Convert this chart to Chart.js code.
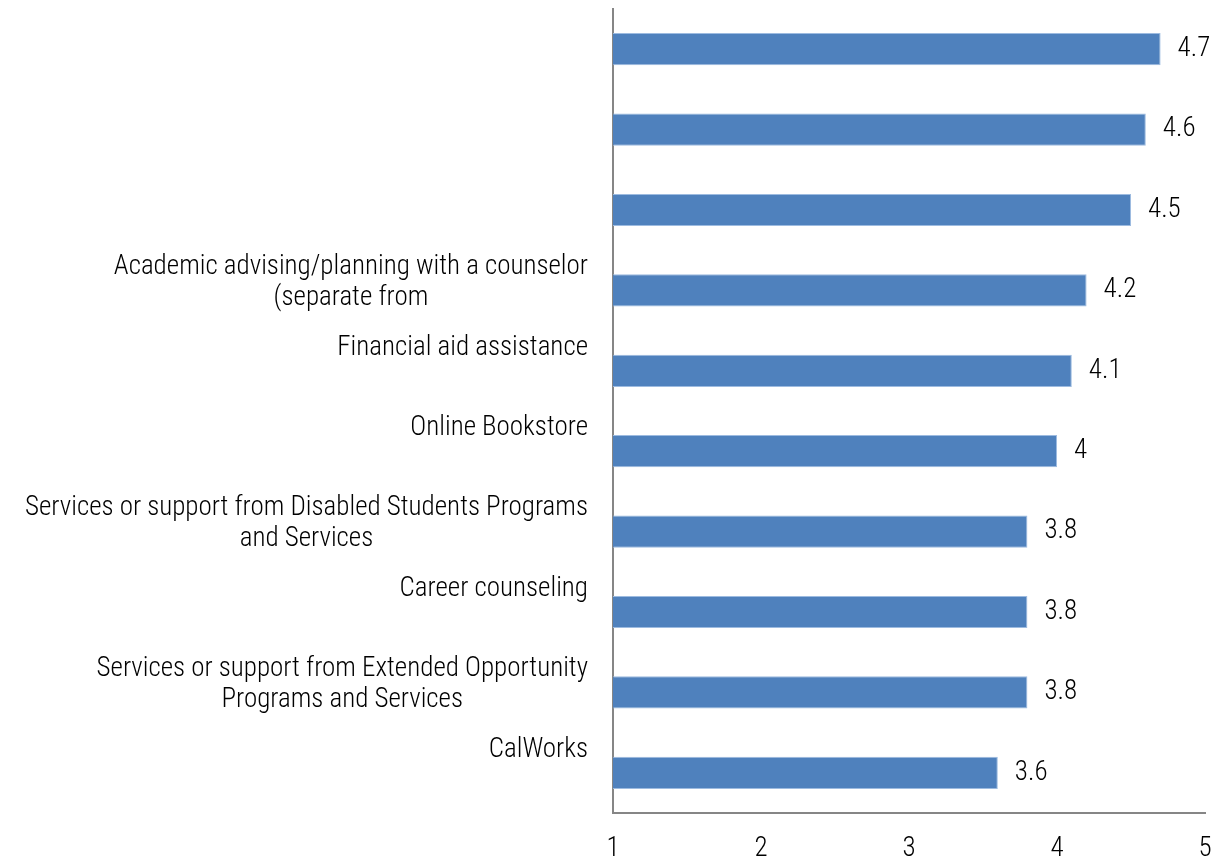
<!DOCTYPE html>
<html>
<head>
<meta charset="utf-8">
<script src="https://cdn.jsdelivr.net/npm/chart.js@4/dist/chart.umd.min.js"></script>
<style>
  html, body { margin: 0; padding: 0; background: #fff; }
  #wrap { width: 1223px; height: 861px; }
</style>
</head>
<body>
<div id="wrap"><canvas id="chart"></canvas></div>
<script>
/* ===============================
   DATA
================================ */
const categories = [
  [""],
  [""],
  [""],
  ["Academic advising/planning with a counselor", "(separate from"],
  ["Financial aid assistance"],
  ["Online Bookstore"],
  ["Services or support from Disabled Students Programs", "and Services"],
  ["Career counseling"],
  ["Services or support from Extended Opportunity", "Programs and Services"],
  ["CalWorks"]
];
const ratings = [4.7, 4.6, 4.5, 4.2, 4.1, 4, 3.8, 3.8, 3.8, 3.6];
const xTicks = [1, 2, 3, 4, 5];

const FONT = "'Liberation Sans Narrow', 'Roboto Condensed', 'Liberation Sans', sans-serif";
const FONT_SIZE = 27;

/* -------------------------------
   Category labels (lines centred on the first)
-------------------------------- */
const categoryLabels = {
  id: "categoryLabels",
  afterDraw(chart) {
    const ctx = chart.ctx;
    const yScale = chart.scales.y;
    const right = chart.chartArea.left - 25;
    ctx.save();
    ctx.font = `300 ${FONT_SIZE}px ${FONT}`;
    ctx.fillStyle = "#000";
    ctx.textBaseline = "middle";
    categories.forEach((lines, i) => {
      if (!lines[0]) return;
      const yc = yScale.getPixelForValue(i) - 23;
      const w0 = ctx.measureText(lines[0]).width;
      const mid = right - w0 / 2;
      lines.forEach((line, j) => {
        ctx.textAlign = "center";
        ctx.fillText(line, mid, yc + j * 31);
      });
    });
    ctx.restore();
  }
};

/* Value labels at the end of each bar */
const valueLabels = {
  id: "valueLabels",
  afterDatasetsDraw(chart) {
    const ctx = chart.ctx;
    const meta = chart.getDatasetMeta(0);
    ctx.save();
    ctx.font = `300 ${FONT_SIZE}px ${FONT}`;
    ctx.fillStyle = "#000";
    ctx.textAlign = "left";
    ctx.textBaseline = "middle";
    meta.data.forEach((bar, i) => {
      ctx.fillText(String(ratings[i]), bar.x + 17, bar.y);
    });
    ctx.restore();
  }
};

new Chart(document.getElementById("chart"), {
  type: "bar",
  data: {
    labels: categories.map(c => c.join(" ")),
    datasets: [{
      data: ratings,
      backgroundColor: "#4f81bd",
      borderColor: "#9dbbe0",
      borderWidth: 1,
      barPercentage: 0.4,
      categoryPercentage: 1
    }]
  },
  options: {
    indexAxis: "y",
    responsive: true,
    maintainAspectRatio: false,
    animation: false,
    layout: { padding: { top: 9, right: 18, left: 0, bottom: 0 } },
    plugins: {
      legend: { display: false },
      tooltip: { enabled: false }
    },
    scales: {
      x: {
        min: 1,
        max: 5,
        afterBuildTicks: s => { s.ticks = xTicks.map(v => ({ value: v })); },
        afterFit: s => { s.height = 48; s.paddingLeft = 0; s.paddingRight = 0; },
        grid: { display: false, drawTicks: false },
        border: { display: true, color: "#868686", width: 2 },
        ticks: {
          padding: 20,
          color: "#000",
          font: { family: FONT, size: FONT_SIZE, weight: 300 }
        }
      },
      y: {
        afterFit: s => { s.width = 613; s.paddingTop = 0; s.paddingBottom = 0; },
        grid: { display: false, drawTicks: false },
        border: { display: true, color: "#868686", width: 2 },
        ticks: { display: false }
      }
    }
  },
  plugins: [categoryLabels, valueLabels]
});
</script>
</body>
</html>
